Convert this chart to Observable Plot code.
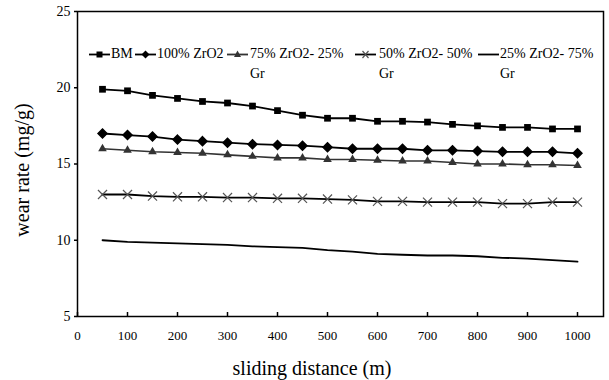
<!DOCTYPE html>
<html>
<head>
<meta charset="utf-8">
<script src="https://cdn.jsdelivr.net/npm/d3@7"></script>
<script src="https://cdn.jsdelivr.net/npm/@observablehq/plot@0.6"></script>
</head>
<body style="margin:0;padding:0;background:#fff">
<div id="wrap" style="position:relative;width:609px;height:380px;font-family:'Liberation Serif'"></div>
<script>
const distance = [50, 100, 150, 200, 250, 300, 350, 400, 450, 500, 550, 600, 650, 700, 750, 800, 850, 900, 950, 1000];
const bm     = [19.9, 19.8, 19.5, 19.3, 19.1, 19.0, 18.8, 18.5, 18.2, 18.0, 18.0, 17.8, 17.8, 17.75, 17.6, 17.5, 17.4, 17.4, 17.3, 17.3];
const zr100  = [17.0, 16.9, 16.8, 16.6, 16.5, 16.4, 16.3, 16.25, 16.2, 16.1, 16.0, 16.0, 16.0, 15.9, 15.9, 15.85, 15.8, 15.8, 15.8, 15.7];
const zr75   = [16.0, 15.9, 15.8, 15.75, 15.7, 15.6, 15.5, 15.4, 15.4, 15.3, 15.3, 15.25, 15.2, 15.2, 15.1, 15.0, 15.0, 14.95, 14.95, 14.9];
const zr50   = [13.0, 13.0, 12.9, 12.85, 12.85, 12.8, 12.8, 12.75, 12.75, 12.7, 12.65, 12.55, 12.55, 12.5, 12.5, 12.5, 12.4, 12.4, 12.5, 12.5];
const zr25   = [10.0, 9.9, 9.85, 9.8, 9.75, 9.7, 9.6, 9.55, 9.5, 9.35, 9.25, 9.1, 9.05, 9.0, 9.0, 8.95, 8.85, 8.8, 8.7, 8.6];
const seriesNames = ["BM", "100% ZrO2", "75% ZrO2- 25% Gr", "50% ZrO2- 50% Gr", "25% ZrO2- 75% Gr"];
const xTicks = [0, 100, 200, 300, 400, 500, 600, 700, 800, 900, 1000];
const yTicks = [5, 10, 15, 20, 25];
const xTitle = "sliding distance (m)";
const yTitle = "wear rate (mg/g)";

const toRows = (vals) => distance.map((d, i) => ({x: d, y: vals[i]}));
const rBM = toRows(bm), r100 = toRows(zr100), r75 = toRows(zr75), r50 = toRows(zr50), r25 = toRows(zr25);

const chart = Plot.plot({
  width: 609, height: 380,
  marginLeft: 77, marginRight: 6, marginTop: 11, marginBottom: 64,
  style: {fontFamily: "Liberation Serif", fontSize: "13px", color: "#000", background: "#fff"},
  x: {domain: [0, 1052]},
  y: {domain: [5, 25]},
  marks: [
    Plot.frame({stroke: "#000", strokeWidth: 1.5}),
    Plot.axisY({ticks: yTicks, tickSize: 3, tickPadding: 4, label: null, fontSize: 14, strokeWidth: 1.5}),
    Plot.axisX({ticks: xTicks, tickFormat: d => String(d), tickSize: -4, tickPadding: 18, label: null, fontSize: 13, strokeWidth: 1.5}),
    Plot.line(rBM, {x: "x", y: "y", stroke: "#000", strokeWidth: 1.8}),
    Plot.dot(rBM, {x: "x", y: "y", symbol: "square", r: 3.8, fill: "#000"}),
    Plot.line(r100, {x: "x", y: "y", stroke: "#000", strokeWidth: 1.8}),
    Plot.dot(r100, {x: "x", y: "y", symbol: "diamond2", r: 4, fill: "#000", stroke: "#000"}),
    Plot.line(r75, {x: "x", y: "y", stroke: "#333", strokeWidth: 1.6}),
    Plot.dot(r75, {x: "x", y: "y", symbol: "triangle", r: 3.2, fill: "#333"}),
    Plot.line(r50, {x: "x", y: "y", stroke: "#000", strokeWidth: 1.8}),
    Plot.dot(r50, {x: "x", y: "y", symbol: "times", r: 4.2, stroke: "#555", strokeWidth: 1.2}),
    Plot.line(r25, {x: "x", y: "y", stroke: "#000", strokeWidth: 1.8})
  ]
});
const wrap = document.getElementById("wrap");
wrap.appendChild(chart);

// Axis titles
const yt = document.createElement("div");
yt.style.cssText = "position:absolute;left:22px;top:170px;font-family:'Liberation Serif';font-size:20px;color:#000;white-space:nowrap;transform:translate(-50%,-50%) rotate(-90deg)";
yt.textContent = yTitle;
wrap.appendChild(yt);
const xt = document.createElement("div");
xt.style.cssText = "position:absolute;left:312px;top:368px;font-family:'Liberation Serif';font-size:20px;color:#000;white-space:nowrap;transform:translate(-50%,-50%)";
xt.textContent = xTitle;
wrap.appendChild(xt);

// Legend (inside plot area, top)
const legendItems = [
  {lines: ["BM"], mx: 89, tx: 111, sym: "square", color: "#000"},
  {lines: ["100% ZrO2"], mx: 135, tx: 157, sym: "diamond", color: "#000"},
  {lines: ["75% ZrO2- 25%", "Gr"], mx: 227, tx: 250, sym: "triangle", color: "#333"},
  {lines: ["50% ZrO2- 50%", "Gr"], mx: 355, tx: 379, sym: "times", color: "#000"},
  {lines: ["25% ZrO2- 75%", "Gr"], mx: 478, tx: 500, sym: null, color: "#000"}
];
function symbolPath(sym) {
  if (sym === "square") return '<rect x="7.5" y="2.5" width="6" height="6" fill="#000"/>';
  if (sym === "diamond") return '<path d="M10.5,1.5L14.5,5.5L10.5,9.5L6.5,5.5Z" fill="#000"/>';
  if (sym === "triangle") return '<path d="M10.5,1.5L14,8L7,8Z" fill="#333"/>';
  if (sym === "times") return '<path d="M7.5,2L13.5,9M13.5,2L7.5,9" stroke="#555" stroke-width="1.2"/>';
  return "";
}
for (const it of legendItems) {
  const m = document.createElement("div");
  m.style.cssText = `position:absolute;left:${it.mx}px;top:49px`;
  m.innerHTML = `<svg width="21" height="11" style="display:block"><line x1="0" x2="21" y1="5.5" y2="5.5" stroke="${it.color}" stroke-width="1.8"/>${symbolPath(it.sym)}</svg>`;
  wrap.appendChild(m);
  const t = document.createElement("div");
  t.style.cssText = `position:absolute;left:${it.tx}px;top:44px;font-family:'Liberation Serif';font-size:14px;line-height:20px;color:#000;white-space:nowrap`;
  t.innerHTML = it.lines.join("<br>");
  wrap.appendChild(t);
}
</script>
</body>
</html>
